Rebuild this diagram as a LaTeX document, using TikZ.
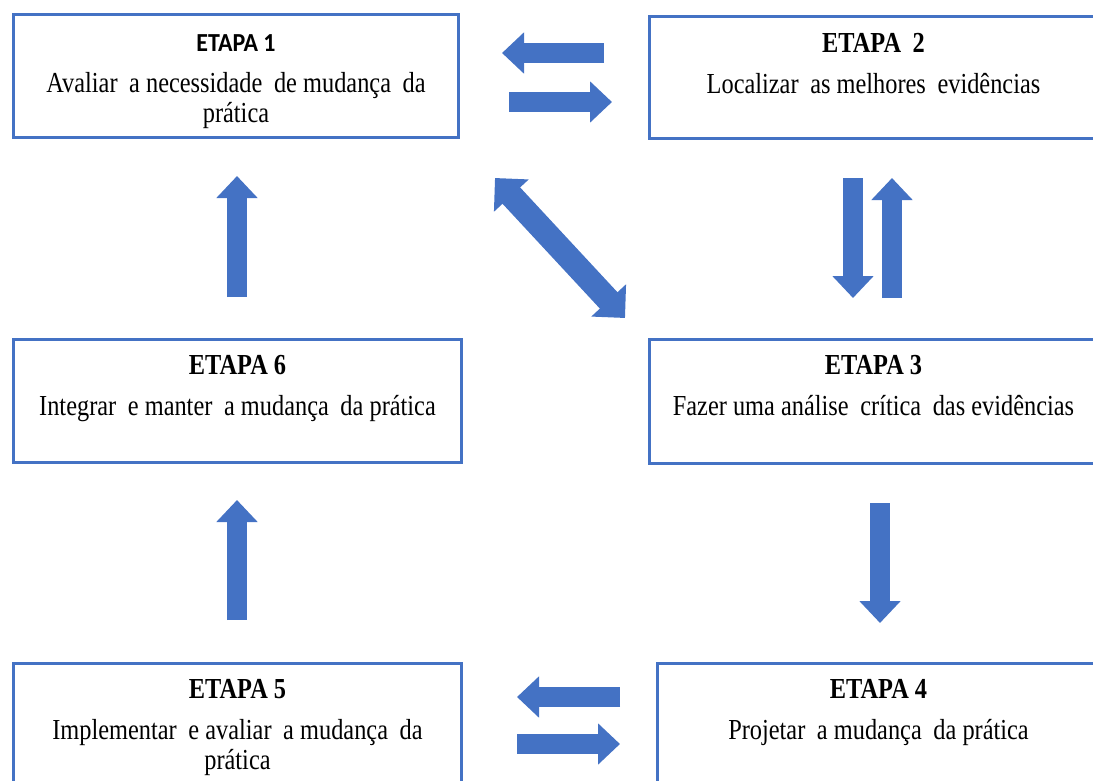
\documentclass[tikz,border=0pt]{standalone}
\usepackage{fontspec}
\setmainfont{Liberation Serif}[FakeStretch=0.84]
\newfontfamily\calfont{Carlito}[FakeStretch=0.92]
\usetikzlibrary{arrows.meta,positioning}
\definecolor{stepblue}{HTML}{4472C4}
\newcommand\wsp{\hspace{0.4em}}

\begin{document}
\begin{tikzpicture}[x=1pt, y=-1pt,
  stepbox/.style={draw=stepblue, line width=3pt, fill=white, inner sep=0pt, anchor=north west},
  steptext/.style={align=center, inner sep=0pt, anchor=base, font=\fontsize{29}{30}\selectfont},
  blockarr/.style={draw=stepblue, line width=20pt, -{Triangle[length=22pt,width=40pt]}}]

  % page
  \useasboundingbox (0,0) rectangle (1093,780);
  \clip (0,0) rectangle (1093,780);

  % boxes
  \node[stepbox, minimum width=445pt, minimum height=123pt] (e1) at (12,13) {};
  \node[stepbox, minimum width=448pt, minimum height=122pt] (e2) at (648,15) {};
  \node[stepbox, minimum width=448pt, minimum height=124pt] (e3) at (648,338) {};
  \node[stepbox, minimum width=442pt, minimum height=140pt] (e4) at (656,662) {};
  \node[stepbox, minimum width=448pt, minimum height=140pt] (e5) at (12,662) {};
  \node[stepbox, minimum width=448pt, minimum height=123pt] (e6) at (12,338) {};

  % texts (base = last line)
  \node[steptext] (t1) at ([yshift=-109pt]e1.north)
    {{\calfont\bfseries\fontsize{26}{30}\selectfont ETAPA 1}\\[11pt]
     Avaliar\wsp a necessidade\wsp de mudança\wsp da\\ prática};
  \node[steptext] (t2) at ([yshift=-78pt]e2.north)
    {\textbf{ETAPA\wsp 2}\\[11pt] Localizar\wsp as melhores\wsp evidências};
  \node[steptext] (t3) at ([yshift=-77pt]e3.north)
    {\textbf{ETAPA 3}\\[11pt] Fazer uma análise\wsp crítica\wsp das evidências};
  \node[steptext] (t4) at ([yshift=-77pt]e4.north)
    {\textbf{ETAPA 4}\\[11pt] Projetar\wsp a mudança\wsp da prática};
  \node[steptext] (t5) at ([yshift=-107pt]e5.north)
    {\textbf{ETAPA 5}\\[11pt] Implementar\wsp e avaliar\wsp a mudança\wsp da\\ prática};
  \node[steptext] (t6) at ([yshift=-77pt]e6.north)
    {\textbf{ETAPA 6}\\[11pt] Integrar\wsp e manter\wsp a mudança\wsp da prática};

  % arrow ends
  \coordinate (a21s) at (604,53);  \coordinate (a21e) at (502,53);
  \coordinate (a12s) at (509,102); \coordinate (a12e) at (612,102);
  \coordinate (a23s) at (853,178); \coordinate (a23e) at (853,298);
  \coordinate (a32s) at (892,298); \coordinate (a32e) at (892,178);
  \coordinate (a13s) at (495,178); \coordinate (a13e) at (625,318);
  \coordinate (a34s) at (880,503); \coordinate (a34e) at (880,623);
  \coordinate (a45s) at (620,697); \coordinate (a45e) at (517,697);
  \coordinate (a54s) at (517,744); \coordinate (a54e) at (620,744);
  \coordinate (a56s) at (237,620); \coordinate (a56e) at (237,500);
  \coordinate (a61s) at (237,297); \coordinate (a61e) at (237,176);

  % arrows
  \draw[blockarr] (a21s) -- (a21e);
  \draw[blockarr] (a12s) -- (a12e);
  \draw[blockarr] (a23s) -- (a23e);
  \draw[blockarr] (a32s) -- (a32e);
  \draw[blockarr, {Triangle[length=24pt,width=46pt]}-{Triangle[length=24pt,width=46pt]}, line width=24pt] (a13s) -- (a13e);
  \draw[blockarr] (a34s) -- (a34e);
  \draw[blockarr] (a45s) -- (a45e);
  \draw[blockarr] (a54s) -- (a54e);
  \draw[blockarr] (a56s) -- (a56e);
  \draw[blockarr] (a61s) -- (a61e);

\end{tikzpicture}
\end{document}
